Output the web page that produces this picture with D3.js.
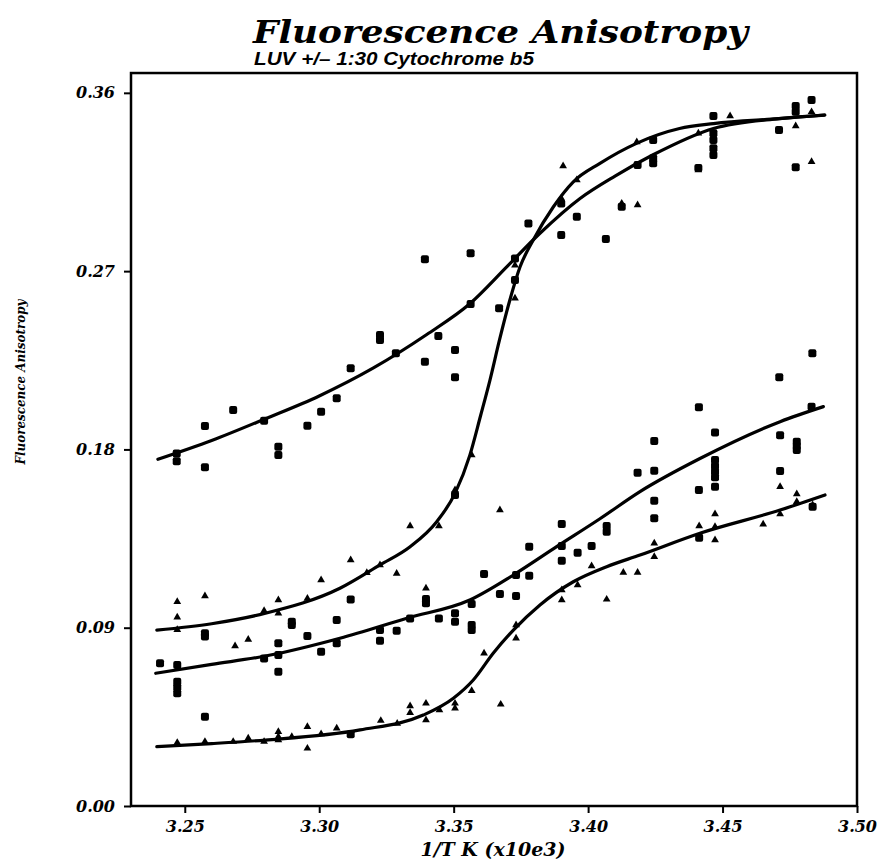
<!DOCTYPE html>
<html>
<head>
<meta charset="utf-8">
<script src="https://cdn.jsdelivr.net/npm/d3@7"></script>
<style>
  html, body { margin: 0; padding: 0; background: #fff; }
  svg { display: block; }
  .serif { font-family: "DejaVu Serif", "Liberation Serif", serif; font-weight: bold; font-style: italic; }
</style>
</head>
<body>
<svg id="chart" width="880" height="861"></svg>
<script>
// Fitted curves, sampled along 1/T (x10e3)
const curveBroadUpper = [
  [3.240,0.175],[3.260,0.1845],[3.280,0.1955],[3.300,0.207],[3.320,0.221],[3.340,0.238],
  [3.356,0.2535],[3.370,0.2725],[3.382,0.289],[3.397,0.3067],[3.410,0.318],[3.424,0.3286],
  [3.4466,0.342],[3.471,0.347],[3.488,0.3488]
];
const curveSteep = [
  [3.2396,0.0888],[3.260,0.092],[3.280,0.0973],[3.3077,0.1099],[3.3226,0.1217],[3.3338,0.1309],
  [3.3437,0.1435],[3.3505,0.1578],[3.356,0.177],[3.360,0.197],[3.3635,0.215],[3.367,0.235],
  [3.3709,0.2554],[3.3747,0.2722],[3.3796,0.2857],[3.3871,0.3025],[3.3945,0.3151],[3.4044,0.3244],
  [3.418,0.3345],[3.434,0.342],[3.4466,0.3445],[3.471,0.347],[3.488,0.3488]
];
const curveBroadLower = [
  [3.2392,0.067],[3.260,0.0715],[3.280,0.0757],[3.3077,0.0847],[3.3326,0.0948],[3.356,0.104],
  [3.3722,0.1166],[3.3883,0.1309],[3.4044,0.145],[3.4193,0.1587],[3.4416,0.1754],[3.4714,0.194],
  [3.4875,0.2016]
];
const curveSigmoidLower = [
  [3.2396,0.030],[3.260,0.0315],[3.280,0.0333],[3.3152,0.0384],[3.3387,0.0459],[3.3499,0.0544],
  [3.3573,0.0636],[3.3647,0.0771],[3.3722,0.0888],[3.3821,0.1015],[3.3945,0.1132],[3.4069,0.1208],
  [3.4193,0.1267],[3.4416,0.1377],[3.4714,0.1494],[3.4881,0.157]
];

// Measured anisotropy, square markers
const squarePoints = [
  [3.247,0.178],[3.247,0.174],[3.2575,0.1918],[3.2575,0.171],[3.268,0.1999],[3.2795,0.1945],
  [3.2848,0.1814],[3.2848,0.1772],[3.2956,0.192],[3.3007,0.199],[3.3065,0.2058],[3.3117,0.221],
  [3.3226,0.2378],[3.3226,0.2352],[3.3285,0.2285],[3.3393,0.276],[3.3393,0.2243],[3.3443,0.2373],
  [3.3505,0.2302],[3.3505,0.2164],[3.3563,0.279],[3.3563,0.2534],[3.3669,0.2512],[3.3728,0.2764],
  [3.3728,0.2655],[3.3778,0.2941],[3.390,0.2882],[3.390,0.3042],[3.3958,0.2975],[3.4066,0.2862],
  [3.4125,0.3025],[3.4184,0.3236],[3.4242,0.3362],[3.4242,0.327],[3.4242,0.3244],[3.441,0.322],
  [3.4466,0.3483],[3.4466,0.3396],[3.4466,0.3362],[3.4466,0.332],[3.4466,0.3286],[3.471,0.3412],
  [3.4772,0.3534],[3.4772,0.3504],[3.4772,0.3224],[3.4831,0.3564],
  [3.2408,0.072],[3.2472,0.0712],[3.2472,0.0627],[3.2472,0.0599],[3.2472,0.0569],[3.2575,0.0451],
  [3.2575,0.0872],[3.2575,0.0855],[3.2795,0.0745],[3.2848,0.0821],[3.2848,0.0762],[3.2848,0.0678],
  [3.2898,0.093],[3.2898,0.0914],[3.2956,0.0858],[3.3007,0.0779],[3.3065,0.0939],[3.3065,0.0821],
  [3.3117,0.1043],[3.3117,0.0362],[3.3226,0.0888],[3.3226,0.0834],[3.3288,0.0885],[3.3338,0.0947],
  [3.3397,0.1045],[3.3397,0.1023],[3.3445,0.0947],[3.3505,0.0973],[3.3505,0.093],[3.3505,0.157],
  [3.3567,0.102],[3.3567,0.0914],[3.3567,0.0888],[3.3613,0.1171],[3.3672,0.107],[3.3732,0.1166],
  [3.3732,0.106],[3.3781,0.1309],[3.3781,0.1162],[3.3902,0.1424],[3.3902,0.1313],[3.3902,0.1238],
  [3.3961,0.1279],[3.4013,0.1312],[3.4069,0.1413],[3.4069,0.1385],[3.4184,0.1682],[3.4246,0.1842],
  [3.4246,0.1692],[3.4246,0.1541],[3.4246,0.1452],[3.4412,0.2013],[3.4412,0.1595],[3.4413,0.1354],
  [3.4472,0.1885],[3.4472,0.1747],[3.4472,0.1716],[3.4472,0.1688],[3.4472,0.1659],[3.4472,0.1612],
  [3.4711,0.2164],[3.4714,0.1871],[3.4714,0.1691],[3.4776,0.1839],[3.4776,0.1817],[3.4776,0.1797],
  [3.4831,0.2016],[3.4834,0.2285],[3.4835,0.151]
];

// Measured anisotropy, triangle markers
const trianglePoints = [
  [3.2472,0.1031],[3.2472,0.0953],[3.2472,0.089],[3.2575,0.106],[3.2687,0.0808],[3.2736,0.0841],
  [3.2795,0.0986],[3.2848,0.104],[3.2848,0.0973],[3.2956,0.1048],[3.3007,0.1141],[3.3117,0.1242],
  [3.3177,0.1178],[3.3226,0.1217],[3.3288,0.1174],[3.3338,0.1413],[3.3397,0.1099],[3.3445,0.1413],
  [3.3505,0.1595],[3.3567,0.1772],[3.3672,0.1494],[3.3728,0.273],[3.3728,0.2563],[3.390,0.3068],
  [3.3907,0.3231],[3.3958,0.316],[3.4125,0.3042],[3.4184,0.3034],[3.4181,0.3352],[3.441,0.3396],
  [3.441,0.321],[3.4528,0.3483],[3.4772,0.3433],[3.4831,0.3504],[3.4831,0.3252],
  [3.2472,0.032],[3.2575,0.0325],[3.268,0.0325],[3.2736,0.0342],[3.2795,0.0325],[3.2848,0.0375],
  [3.2848,0.035],[3.2848,0.0333],[3.2898,0.035],[3.2956,0.040],[3.2956,0.0291],[3.3007,0.0363],
  [3.3065,0.0392],[3.3229,0.0431],[3.329,0.0417],[3.3338,0.0505],[3.3338,0.0471],[3.3397,0.0518],
  [3.3397,0.0434],[3.3447,0.0485],[3.3505,0.0518],[3.3505,0.0493],[3.3567,0.0582],[3.3613,0.0771],
  [3.3675,0.0513],[3.3732,0.0914],[3.3732,0.0847],[3.3902,0.109],[3.3902,0.104],[3.3961,0.1116],
  [3.4013,0.1212],[3.4069,0.1043],[3.4131,0.1179],[3.4184,0.1179],[3.4246,0.1326],[3.4246,0.1258],
  [3.4413,0.1413],[3.4472,0.1474],[3.4472,0.141],[3.4472,0.1343],[3.4651,0.1422],[3.4714,0.1612],
  [3.4714,0.1474],[3.4776,0.1575],[3.4776,0.1536],[3.4835,0.1519]
];

// Axis ticks
const xMajorTicks = [3.25, 3.30, 3.35, 3.40, 3.45, 3.50];
const xMinorTicks = [3.24,3.26,3.27,3.28,3.29,3.31,3.32,3.33,3.34,3.36,3.37,3.38,3.39,3.41,3.42,3.43,3.44,3.46,3.47,3.48,3.49];
const yMajorTicks = [0.00, 0.09, 0.18, 0.27, 0.36];
const yMinorTicks = [0.03, 0.06, 0.12, 0.15, 0.21, 0.24, 0.30, 0.33];

const svg = d3.select("#chart");
const plotLeft = 131, plotRight = 857, plotBottom = 806;
const x = d3.scaleLinear().domain([3.23, 3.50]).range([plotLeft, plotRight]);
const y = d3.scaleLinear().domain([0, 0.37]).range([plotBottom, plotBottom - 0.37 * 1981]);
const plotTop = y(0.37);

// Titles
svg.append("text").attr("class", "serif")
  .attr("x", 253).attr("y", 43)
  .attr("font-size", 31)
  .attr("textLength", 495).attr("lengthAdjust", "spacingAndGlyphs")
  .text("Fluorescence Anisotropy");
svg.append("text")
  .attr("x", 254).attr("y", 65)
  .attr("font-family", "'Liberation Sans Narrow', 'Liberation Sans', sans-serif")
  .attr("font-weight", "bold").attr("font-style", "italic")
  .attr("font-size", 18)
  .attr("textLength", 280).attr("lengthAdjust", "spacingAndGlyphs")
  .text("LUV +/\u2013 1:30 Cytochrome b5");

// Axes
const fmt = d3.format(".2f");
const gx = svg.append("g").attr("transform", `translate(0,${plotBottom})`);
gx.call(d3.axisBottom(x).tickValues(xMinorTicks).tickSize(4).tickFormat(""));
gx.call(d3.axisBottom(x).tickValues(xMajorTicks).tickSize(7).tickPadding(8).tickFormat(fmt));
const gy = svg.append("g").attr("transform", `translate(${plotLeft},0)`);
gy.call(d3.axisLeft(y).tickValues(yMinorTicks).tickSize(4).tickFormat(""));
gy.call(d3.axisLeft(y).tickValues(yMajorTicks).tickSize(7).tickPadding(9).tickFormat(fmt));
svg.selectAll(".domain").remove();
svg.selectAll(".tick line").attr("stroke", "#000").attr("stroke-width", 2);
svg.selectAll(".tick text")
  .attr("font-family", "'DejaVu Serif', serif")
  .attr("font-weight", "bold").attr("font-style", "italic")
  .attr("font-size", 16).attr("fill", "#000");

// Frame
svg.append("rect")
  .attr("x", plotLeft).attr("y", plotTop)
  .attr("width", plotRight - plotLeft).attr("height", plotBottom - plotTop)
  .attr("fill", "none").attr("stroke", "#000").attr("stroke-width", 2.5);

// Axis labels
svg.append("text").attr("class", "serif")
  .attr("x", 493).attr("y", 856).attr("text-anchor", "middle")
  .attr("font-size", 19)
  .text("1/T K (x10e3)");
svg.append("text").attr("class", "serif")
  .attr("transform", "translate(25,382) rotate(-90)")
  .attr("text-anchor", "middle")
  .attr("font-size", 13)
  .attr("textLength", 165).attr("lengthAdjust", "spacingAndGlyphs")
  .text("Fluorescence Anisotropy");

// Curves
const line = d3.line().x(d => x(d[0])).y(d => y(d[1])).curve(d3.curveMonotoneX);
[curveBroadUpper, curveSteep, curveBroadLower, curveSigmoidLower].forEach(c => {
  svg.append("path").attr("d", line(c))
    .attr("fill", "none").attr("stroke", "#000").attr("stroke-width", 3.2)
    .attr("stroke-linecap", "round");
});

// Markers
svg.append("g").selectAll("rect").data(squarePoints).join("rect")
  .attr("x", d => x(d[0]) - 4).attr("y", d => y(d[1]) - 4)
  .attr("width", 8).attr("height", 8).attr("rx", 2)
  .attr("fill", "#000");
const tri = d3.symbol().type(d3.symbolTriangle).size(26);
svg.append("g").selectAll("path").data(trianglePoints).join("path")
  .attr("transform", d => `translate(${x(d[0])},${y(d[1])})`)
  .attr("d", tri).attr("fill", "#000");
</script>
</body>
</html>
